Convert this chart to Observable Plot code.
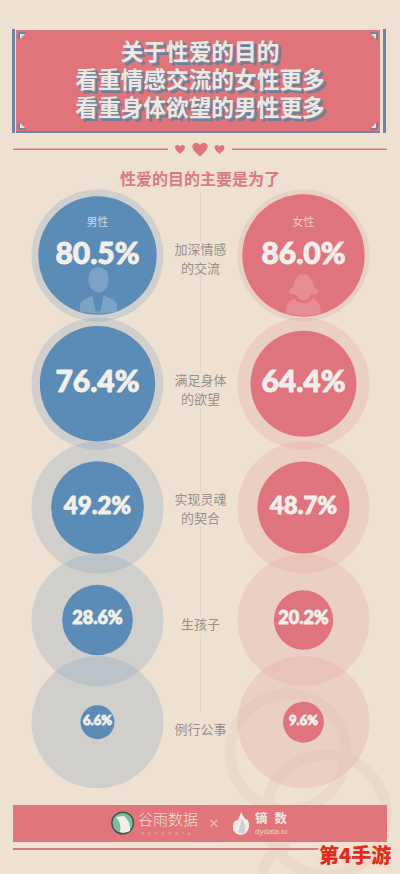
<!DOCTYPE html>
<html lang="zh">
<head>
<meta charset="utf-8">
<script src="https://cdn.jsdelivr.net/npm/d3@7"></script>
<script src="https://cdn.jsdelivr.net/npm/@observablehq/plot@0.6"></script>
<style>
  html, body { margin: 0; padding: 0; background: #eee1d2; }
  body { width: 400px; height: 874px; position: relative; overflow: hidden; font-family: "Noto Sans CJK SC", sans-serif; }
  #deco { position: absolute; left: 0; top: 0; z-index: 0; }
  #header { position: relative; height: 188px; z-index: 1; }
  #chart { position: relative; z-index: 1; height: 614px; }
  #chart svg { display: block; overflow: visible; }
  #footer { position: relative; z-index: 1; height: 72px; }
  .abs { position: absolute; white-space: nowrap; }
  .bar { position: absolute; }
  .title { left: 0; top: 37px; width: 400px; text-align: center; color: #efe7e0; font-weight: 700; font-size: 22.7px; line-height: 28px; text-shadow: 1px 1px 0 #7f8ba3, 2px 2px 0 #6f7f97, 2.6px 2.6px 0 #6f7f97; }
</style>
</head>
<body>
<svg id="deco" width="400" height="874" fill="none" stroke="#ead9cb" stroke-width="11">
  <circle cx="288" cy="752" r="58"/>
  <circle cx="326" cy="815" r="60"/>
  <path d="M262 874 Q268 850 290 845"/>
</svg>
<div id="header">
  <div class="bar" style="left:12px;top:29px;width:3px;height:104px;background:#6f83a5"></div>
  <div class="bar" style="left:383px;top:29px;width:3px;height:104px;background:#6f83a5"></div>
  <div class="bar" style="left:16px;top:30px;width:364px;height:101px;background:#e0747b"></div>
  <div class="bar" style="left:16px;top:131px;width:364px;height:2px;background:#6f83a5"></div>
  <svg class="bar" style="left:0;top:0" width="400" height="188">
    <path d="M18 32h8l-1 2h-5v5l-2 1z" fill="#6f83a5"/>
    <path d="M20 34h5l-5 5z" fill="#eee1d2"/>
    <path d="M378 32h-8l1 2h5v5l2 1z" fill="#6f83a5"/>
    <path d="M376 34h-5l5 5z" fill="#eee1d2"/>
    <path d="M18 130h8l-1-2h-5v-5l-2-1z" fill="#6f83a5"/>
    <path d="M20 128h5l-5-5z" fill="#eee1d2"/>
    <path d="M378 130h-8l1-2h5v-5l2-1z" fill="#6f83a5"/>
    <path d="M376 128h-5l5-5z" fill="#eee1d2"/>
    <g stroke="#e0747d" stroke-width="1.4"><line x1="13" x2="168" y1="149.3" y2="149.3"/><line x1="232" x2="387" y1="149.3" y2="149.3"/></g>
    <g fill="#e0747d">
      <path transform="translate(180,149) scale(.62)" d="M0 8C-4 4-8 1-8-3C-8-7-2-8 0-4C2-8 8-7 8-3C8 1 4 4 0 8Z"/>
      <path transform="translate(200,149) scale(.95)" d="M0 8C-4 4-8 1-8-3C-8-7-2-8 0-4C2-8 8-7 8-3C8 1 4 4 0 8Z"/>
      <path transform="translate(219.5,149) scale(.62)" d="M0 8C-4 4-8 1-8-3C-8-7-2-8 0-4C2-8 8-7 8-3C8 1 4 4 0 8Z"/>
    </g>
  </svg>
  <div class="abs title">关于性爱的目的<br>看重情感交流的女性更多<br>看重身体欲望的男性更多</div>
  <div class="abs" style="left:0;width:400px;text-align:center;top:167px;font-size:16px;line-height:22px;font-weight:700;color:#dc7a83">性爱的目的主要是为了</div>
</div>
<div id="chart"></div>
<div id="footer">
  <div class="bar" style="left:13px;top:3px;width:374px;height:37px;background:#e0757c"></div>
  <div class="bar" style="left:13px;top:46px;width:306px;height:1.5px;background:#e0757c"></div>
  <svg class="bar" style="left:0;top:0" width="400" height="60">
    <circle cx="122.7" cy="21" r="10.8" fill="#7dbd9c" stroke="#44504a" stroke-width="1.4"/>
    <path d="M116 15 L124 14 Q131 20 130 29 Q124 32 120 30 Q122 22 116 15Z" fill="#f2eee8"/>
    <path d="M233 28 Q232 18 238 18 Q240 14 241 10 Q244 17 248 18 Q251 26 246 31 Q238 36 233 28Z" fill="#f0ece8"/>
    <path d="M238 30 Q241 24 241 16 Q246 22 245 30 Q242 33 238 30Z" fill="#cfcfd0"/>
  </svg>
  <div class="abs" style="left:138px;top:9px;font-size:15px;line-height:16px;font-weight:300;color:#f4dcd4">谷雨数据</div>
  <div class="abs" style="left:141px;top:29px;font-size:4px;line-height:5px;letter-spacing:4px;color:#f0b9b0;font-family:Lato">GUYUDATA</div>
  <div class="abs" style="left:209px;top:10px;font-size:17px;line-height:22px;font-weight:700;color:#eeb1a8;font-family:Lato">×</div>
  <div class="abs" style="left:255px;top:9px;font-size:12.5px;line-height:14px;letter-spacing:7px;font-weight:700;color:#f2e6e0">镝数</div>
  <div class="abs" style="left:255px;top:25px;font-size:8px;line-height:9px;color:#f2cfc9;font-family:'Liberation Sans'">dydata.io</div>
  <div class="abs" style="left:319px;top:41px;font-size:20px;line-height:24px;font-weight:900;color:#e12c20;-webkit-text-stroke:3px #f4dccb;paint-order:stroke fill">第4手游</div>
</div>
<script>
const rows = ["加深情感\n的交流", "满足身体\n的欲望", "实现灵魂\n的契合", "生孩子", "例行公事"];
const maleValues = [80.5, 76.4, 49.2, 28.6, 6.6];
const femaleValues = [86.0, 64.4, 48.7, 20.2, 9.6];
const sexes = ["男性", "女性"];

// layout, kept apart from the data
const columns = ["男性", "label", "女性"];
const rowCentres = [67, 195.3, 319, 431.5, 533.7];
const valueSizes = [30, 30, 24, 18, 13];
const labelShift = [1.5, 4.5, 0, 3, 6];
const bg = "#eee1d2";
const ink = {男性: "#5b8cb8", 女性: "#e0747e"};
const halo = {男性: "#8ca7bf", 女性: "#e59c9c"};

const table = rows.flatMap((row, i) => [
  {row, sex: "男性", value: maleValues[i], size: valueSizes[i]},
  {row, sex: "女性", value: femaleValues[i], size: valueSizes[i]}
]);

// person icons, in pixels from the centre of the dot they sit in
const manBody = {draw(c) {
  c.moveTo(-17.5, 56); c.lineTo(-17.5, 50);
  c.bezierCurveTo(-17, 44, -8, 42, -5, 40);
  c.lineTo(-2, 56); c.lineTo(3, 56);
  c.lineTo(6, 40);
  c.bezierCurveTo(10, 42, 19, 44, 19.5, 50);
  c.lineTo(19.5, 56);
  c.quadraticCurveTo(1, 60, -17.5, 56); c.closePath();
}};
const manHead = {draw(c) {
  c.moveTo(1.2, 12);
  c.bezierCurveTo(9, 12, 11, 18, 11, 24);
  c.bezierCurveTo(11, 32, 6, 37, 1.2, 37);
  c.bezierCurveTo(-4, 37, -9, 32, -9, 24);
  c.bezierCurveTo(-9, 18, -7, 12, 1.2, 12); c.closePath();
}};
const womanHair = {draw(c) {
  c.moveTo(0, 19);
  c.bezierCurveTo(7, 19, 9, 24, 9.5, 29);
  c.bezierCurveTo(10, 33, 15, 33, 15, 36);
  c.bezierCurveTo(15, 39, 10, 39, 7, 39);
  c.bezierCurveTo(6, 43, 3, 45, 0, 45);
  c.bezierCurveTo(-3, 45, -6, 43, -7, 39);
  c.bezierCurveTo(-10, 39, -15, 39, -15, 36);
  c.bezierCurveTo(-15, 33, -10, 33, -9.5, 29);
  c.bezierCurveTo(-9, 24, -7, 19, 0, 19); c.closePath();
}};
const womanBody = {draw(c) {
  c.moveTo(-17, 58); c.lineTo(-17, 53);
  c.bezierCurveTo(-17, 47, -12, 44, -9, 43);
  c.bezierCurveTo(-6, 49, 6, 49, 9, 43);
  c.bezierCurveTo(12, 44, 17, 47, 17, 53);
  c.lineTo(17, 58);
  c.quadraticCurveTo(0, 62, -17, 58); c.closePath();
}};

const firstRow = [rows[0]];
const chart = Plot.plot({
  width: 400,
  height: 614,
  marginTop: 4,
  marginBottom: 90,
  marginLeft: 0,
  marginRight: 0,
  style: {background: "transparent", overflow: "visible"},
  x: {type: "point", domain: columns, range: [96.5, 303.5], padding: 0, axis: null},
  y: {type: "ordinal", domain: rows, range: rowCentres, axis: null},
  r: {type: "sqrt", domain: [0, 100], range: [0, 66]},
  marks: [
    Plot.ruleX(["label"], {stroke: "#e2d3c4", strokeWidth: 1}),
    Plot.dot(table, {x: "sex", y: "row", r: () => 100, fill: d => halo[d.sex], fillOpacity: d => d.sex === "男性" ? 0.3 : 0.25}),
    Plot.dot(table, {x: "sex", y: "row", r: "value", fill: d => ink[d.sex]}),
    Plot.dot(firstRow, {x: () => "男性", y: d => d, symbol: manHead, r: 10, fill: "#7ba3c6"}),
    Plot.dot(firstRow, {x: () => "男性", y: d => d, symbol: manBody, r: 10, fill: "#7ba3c6"}),
    Plot.dot(firstRow, {x: () => "女性", y: d => d, symbol: womanHair, r: 10, fill: "#e88d95"}),
    Plot.dot(firstRow, {x: () => "女性", y: d => d, symbol: womanBody, r: 10, fill: "#e88d95"}),
    Plot.text(sexes, {x: d => d, y: () => rows[0], dy: -33, text: d => d, fontSize: 11, fill: d => d === "男性" ? "#c9d8e4" : "#f4c9c9", fontFamily: "Noto Sans CJK SC"}),
    Plot.text(table, {x: "sex", y: "row", dy: -1.5, text: d => d.value.toFixed(1) + "%", fontSize: "size", fontWeight: 900, fontFamily: "Lato", fill: "#f2eeea", stroke: "#f2eeea", strokeWidth: 0.9}),
    ...rows.map((row, i) => Plot.text([row], {
      x: () => "label", y: d => d, dy: labelShift[i], text: d => d,
      fontSize: 13, lineHeight: 1.5, fontFamily: "Noto Sans CJK SC",
      fill: "#9a8f86", stroke: bg, strokeWidth: 5
    }))
  ]
});
document.getElementById("chart").append(chart);
</script>
</body>
</html>
